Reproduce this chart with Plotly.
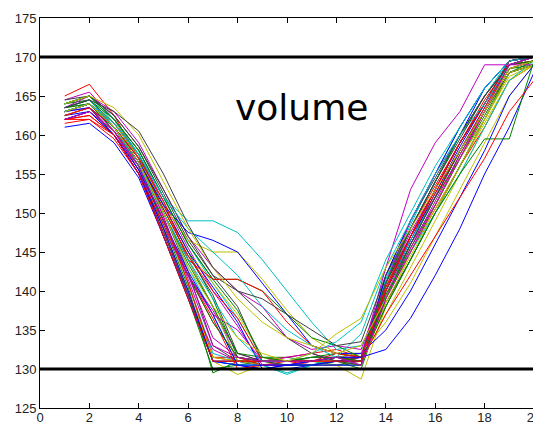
import plotly.graph_objects as go

x_vals = list(range(1, 21))

v01 = [163.5,164.5,161,156,148,139.5,131,131,130.5,130.5,130.5,131,131,140,147,153,159,164,169.5,170]
v02 = [163,164,160.5,155.5,147,139,130,130.5,131,131,131,130.5,130.5,139,146,152,158,163,169,169.5]
v03 = [162,162.5,160,155,147.5,140,131.5,131.5,131,131,130.5,131,131.5,141,147,152,157,163,168.5,169.5]
v04 = [164,165,161.5,157,149,141,132,131,130.5,129.5,130.5,131.5,132,141.5,148,154,160,165,169.5,170]
v05 = [162.5,163.5,160,155,147,139.5,132.5,131,131,131,131,131,131,139.5,146,151,157,162,168,169]
v06 = [163,164,161,156.5,149,141,131,129.3,130.5,130.5,130.5,130.5,128.7,138,145,151,157,163,168,169]
v07 = [164,165,162,157.5,150,142.5,133,131,130.5,130.5,130.5,130.5,131,140.5,147,153,159,164,169.5,170]
v08 = [161,161.5,159,154.5,147,139,131,130.5,130,130,130.5,131,131,141,148,154,160,166,169.5,170]
v09 = [163.5,164,160.5,156,148.5,140.5,129.5,131,131.5,131.5,131,131,130,139,145.5,151,157.5,163,168.5,169]
v10 = [165,166.5,162.5,157,149.5,141,131.5,131,131,131.5,132,132.5,131.5,139,145,150.5,156,161,167,169]
v11 = [162,163,160.5,155.5,148,140,131,130.5,130.5,130.5,131,131.5,131,141.5,148.5,155,161,166,169.5,170]
v12 = [164.5,165.5,162,157,149.5,141.5,133,131.5,131,131.5,132,131,131.5,140,146.5,152,158,163.5,169,170]
v13 = [163,164,161,156,148,140,131.5,131,131,130.5,131,131.5,132,139.5,145,150.5,156,161.5,167,169]
v14 = [162.5,163.5,160,155,147.5,139.5,131,131,131,131,131,131,131,138.5,144,150,156,162,168,169]
v15 = [163,164,161,157,150,144,138,131,130.5,130.5,130.5,131,130.5,140,146.5,152.5,158.5,164,169.5,170]
v16 = [164,164.5,161.5,157.5,151,145,139,131.5,131,131,131,131,131,138,144,150,156,162,168,169.5]
v17 = [162,162.5,160,156,149,142,136,131.5,130.5,131,131,132,131.5,140,147,153,159,164.5,169,170]
v18 = [163.5,164.5,161,156.5,150,143,137,130.5,130.5,129.3,130.5,131,130.5,141,148,154,160,165,169.5,170]
v19 = [163,163.5,160.5,155.5,148,142,137.5,132,131,131,131.5,131.5,131,139,145.5,151.5,157.5,163,168.5,169.5]
v20 = [164,165,162,157,151,144,138,131,130.5,130.5,130.5,131,131,137,143,149,155,161,167,169]
v21 = [163,164,161.5,157,150.5,144.5,139.5,132,131,131,131,131.5,131.5,142,149,154.5,160,165,169,169.5]
v22 = [162.5,163,160,155.5,149,142.5,137,130.5,130,130.5,130.5,130.5,130.5,140,147,153,159,164,169,170]
v23 = [163.5,164,161,156.5,150,143.5,138,132,131.5,131,131.5,131.5,131,139.5,145,151,157,162.5,168,169]
v24 = [161.5,162,159.5,155,148.5,142,136.5,130,130.5,130.5,131,131,131,141,148,153.5,159,164,169,169.5]
v25 = [164,165,162,158,152,146,141,136.5,131,130.5,130.5,131,131,140,146.5,152,158,163.5,169,170]
v26 = [163,164,161.5,157.5,151.5,145.5,140,135.5,130.5,130.5,131,131,131.5,141,147.5,153,159,164,169,170]
v27 = [162.5,163.5,161,157,151,145,141,137,131.5,131,131,131,130.5,138.5,144.5,150,156,162,167.5,169]
v28 = [164.5,165,162.5,158.5,152.5,146.5,142,138,131,130.5,130.5,131,131.5,141,147,153,159,164,169.5,170]
v29 = [163,163.5,161,157,151,145,140.5,136,130,130.5,130.5,131,131,142,149,155,161,166,169.5,170]
v30 = [163.5,164.5,162,158,152,146,141.5,137.5,131.5,131,131.5,132,131.5,139,146,152,158,163,168.5,169.5]
v31 = [162,163,160.5,156.5,150.5,144.5,140,136.5,131,131,131,131.5,131,140.5,147,152.5,158,163.5,169,170]
v32 = [164,165,162,157.5,152,149,149,147.5,144,140,136,132.5,133,139,145,150,155,161,167,169.5]
v33 = [163.5,165,163,159,153,147,143,140,138,134,132.5,133,132.5,141,149,155,160,165,169,170]
v34 = [163,164,161.5,157,151,146.5,145,145,141.5,137.5,134,132,132,136,141,147,153,159,165,169]
v35 = [164,165,162.5,158.5,153,147,142,140,137,134,132,131,130.5,140,146,152,158,163,168,169]
v36 = [163,164,161,156.5,151,147.5,146.5,145,141,137,133,132,132,135,140,146,152,158,165,169]
v37 = [164,165,162,158,152,146,141.5,141.5,140,137,134,133,131.5,141,148,154,160,165,169,169.5]
v38 = [162.5,163.5,161,157,151.5,144,141.5,141.5,140,136,133,132,131.5,140,147,153,159,164,169.5,170]
v39 = [163,164,161.5,157.5,152,148,145,142,138,135,133,131.5,134.5,143,149,155,160,164,169,170]
v40 = [163,164,161,156,149,142,137,135,131,131,131,131.5,131.5,143,153,159,163,169,169,169]
v41 = [164,165,163.5,160,154,148,143,139,136,134,133,132,133,139,145,151,157,162,168,169]
v42 = [163.5,164.5,163,160.5,155,148.5,143,140,139,137,135,133,133.5,142,148,154,159.5,165,169,170]
v43 = [162,163,160,155,148,140,131,130.5,130.5,130.5,131,131.5,131.5,132.5,136.5,142,148,155,161,168]
v44 = [163,164,161,156,149,142,136,131.5,131,131,131,131.5,131,138,144,150,155,159.5,159.5,169.5]
v45 = [162,162,160,155,147,139,131,131,131,131,131,131,131,137,142,147,152,157,163,167]
v46 = [163,164,161,156,150,144,139,134,131,131,132,133.5,136,144,150,156,161,166,169.5,170]
v47 = [162,163,160.5,156,149,142,134,131.5,131,131,131,131.5,130.5,139,145,151,157,163,169,170]
v48 = [163,164,161,156.5,150,143,138,134,132,131,132,134.5,136.5,143,148,153,158,163,168.5,169.5]

series = [v01, v02, v03, v04, v05, v06, v07, v08, v09, v10, v11, v12, v13, v14, v15, v16,
          v17, v18, v19, v20, v21, v22, v23, v24, v25, v26, v27, v28, v29, v30, v31, v32,
          v33, v34, v35, v36, v37, v38, v39, v40, v41, v42, v43, v44, v45, v46, v47, v48]

limits = [130, 170]
x_range = [0, 20]
y_range = [125, 175]
label_text = "volume"

matlab_colors = ["rgb(0,0,255)", "rgb(0,128,0)", "rgb(255,0,0)", "rgb(0,191,191)",
                 "rgb(191,0,191)", "rgb(191,191,0)", "rgb(64,64,64)"]

fig = go.Figure()
for i, s in enumerate(series):
    fig.add_trace(go.Scatter(x=x_vals, y=s, mode="lines",
                             line=dict(color=matlab_colors[i % 7], width=1),
                             showlegend=False, hoverinfo="skip"))

for lim in limits:
    fig.add_trace(go.Scatter(x=x_range, y=[lim, lim], mode="lines",
                             line=dict(color="black", width=3),
                             showlegend=False, hoverinfo="skip"))

fig.add_annotation(x=10.6, y=163.55, text=label_text, showarrow=False,
                   font=dict(family="DejaVu Sans", size=36, color="black"),
                   xanchor="center", yanchor="middle")

axis_common = dict(showline=True, linecolor="black", linewidth=1, mirror="ticks",
                   ticks="inside", ticklen=5, tickcolor="black", showgrid=False,
                   zeroline=False, automargin=False, ticklabeloverflow="allow",
                   tickfont=dict(family="Liberation Sans, Arial", size=13, color="#222"))

fig.update_xaxes(range=x_range, dtick=2, tick0=0, ticklabelstandoff=-3, **axis_common)
fig.update_yaxes(range=y_range, dtick=5, tick0=125, **axis_common)

fig.update_layout(width=533, height=416,
                  margin=dict(l=32, r=7, t=10, b=16),
                  paper_bgcolor="white", plot_bgcolor="white")

fig.write_html("out.html")
